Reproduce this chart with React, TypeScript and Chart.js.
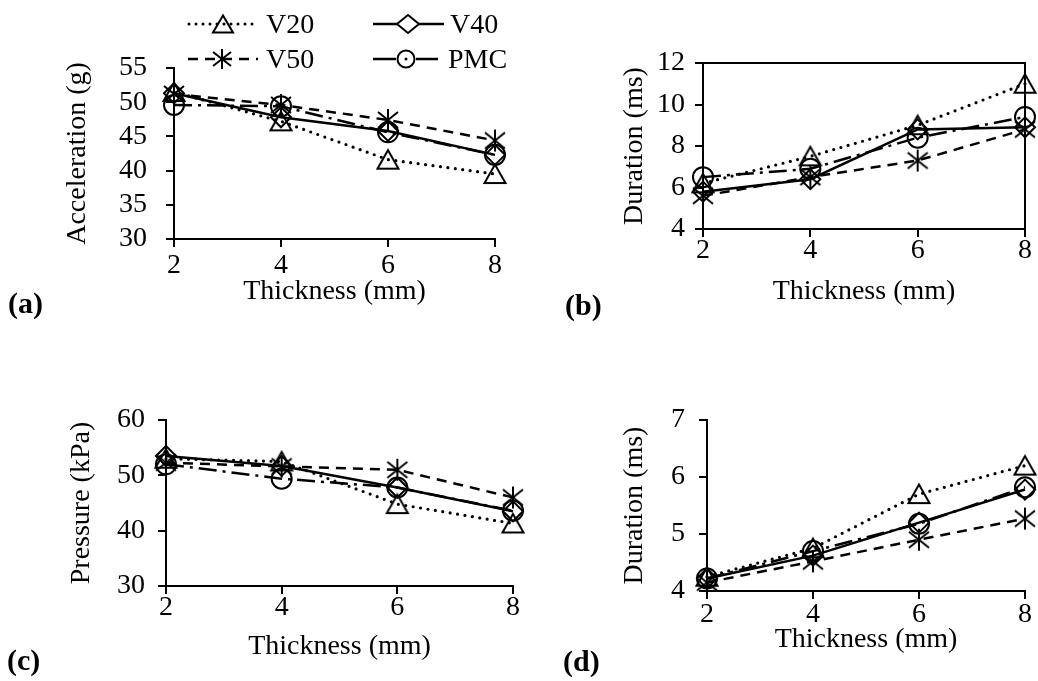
import React, { useEffect, useRef } from 'react';
import { Chart, registerables } from 'chart.js';

Chart.register(...registerables);

const FONT = "'Liberation Serif', 'Times New Roman', Times, serif";

// ---- data ----
const thickness = [2, 4, 6, 8];
const seriesNames = ['V20', 'V40', 'V50', 'PMC'];

const accV20 = [51.5, 47.2, 41.6, 39.5];
const accV40 = [51.3, 47.8, 45.8, 42.3];
const accV50 = [51.2, 49.6, 47.4, 44.4];
const accPMC = [49.6, 49.4, 45.6, 42.3];
const accTicks = [30, 35, 40, 45, 50, 55];

const durBV20 = [6.2, 7.5, 9.0, 11.0];
const durBV40 = [5.8, 6.4, 8.8, 8.9];
const durBV50 = [5.6, 6.5, 7.3, 8.8];
const durBPMC = [6.5, 6.9, 8.4, 9.4];
const durBTicks = [4, 6, 8, 10, 12];

const presV20 = [53.0, 52.5, 44.8, 41.3];
const presV40 = [53.5, 51.7, 47.8, 43.5];
const presV50 = [52.3, 51.6, 51.0, 46.0];
const presPMC = [52.0, 49.4, 47.8, 43.6];
const presTicks = [30, 40, 50, 60];

const durDV20 = [4.25, 4.75, 5.7, 6.2];
const durDV40 = [4.22, 4.62, 5.2, 5.78];
const durDV50 = [4.15, 4.52, 4.9, 5.27];
const durDPMC = [4.22, 4.7, 5.18, 5.82];
const durDTicks = [4, 5, 6, 7];

const xTitle = 'Thickness (mm)';

// ---- marker images ----
function makeTriangle(): HTMLCanvasElement {
  const c = document.createElement('canvas');
  c.width = 26; c.height = 24;
  const g = c.getContext('2d')!;
  g.strokeStyle = '#000'; g.lineWidth = 2; g.lineJoin = 'miter';
  g.beginPath();
  g.moveTo(13, 2.5); g.lineTo(2.5, 21); g.lineTo(23.5, 21); g.closePath();
  g.stroke();
  return c;
}
function makeAsterisk(): HTMLCanvasElement {
  const c = document.createElement('canvas');
  c.width = 24; c.height = 24;
  const g = c.getContext('2d')!;
  g.strokeStyle = '#000'; g.lineWidth = 2;
  g.beginPath();
  g.moveTo(12, 1); g.lineTo(12, 23);
  g.moveTo(2, 4); g.lineTo(22, 20);
  g.moveTo(22, 4); g.lineTo(2, 20);
  g.stroke();
  return c;
}

type Spec = {
  left: number; top: number; w: number; h: number;
  pad: { left: number; top: number; right: number; bottom: number };
  yW: number; xH: number; yPad: number; xPad: number;
  frame: boolean; yTitle: string; yTicks: number[]; series: number[][];
};

const panels: Spec[] = [
  { left: 0, top: 0, w: 540, h: 330, pad: { left: 61, top: 68, right: 45, bottom: 22 }, yW: 113, xH: 69, yPad: 19, xPad: 5, frame: false, yTitle: 'Acceleration (g)', yTicks: accTicks, series: [accV20, accV40, accV50, accPMC] },
  { left: 520, top: 0, w: 518, h: 330, pad: { left: 98, top: 63, right: 10, bottom: 22 }, yW: 85, xH: 79, yPad: 10, xPad: 0, frame: true, yTitle: 'Duration (ms)', yTicks: durBTicks, series: [durBV20, durBV40, durBV50, durBPMC] },
  { left: 0, top: 330, w: 540, h: 351, pad: { left: 65, top: 90, right: 27, bottom: 18 }, yW: 101, xH: 77, yPad: 13, xPad: 0, frame: false, yTitle: 'Pressure (kPa)', yTicks: presTicks, series: [presV20, presV40, presV50, presPMC] },
  { left: 520, top: 330, w: 518, h: 351, pad: { left: 98, top: 90, right: 9, bottom: 25 }, yW: 89, xH: 65, yPad: 14, xPad: 2, frame: false, yTitle: 'Duration (ms)', yTicks: durDTicks, series: [durDV20, durDV40, durDV50, durDPMC] },
];

const framePlugin = {
  id: 'frameBox',
  beforeDatasetsDraw(chart: any) {
    const { ctx, chartArea } = chart;
    ctx.save();
    ctx.strokeStyle = '#000';
    ctx.lineWidth = 2;
    ctx.strokeRect(chartArea.left, chartArea.top, chartArea.right - chartArea.left, chartArea.bottom - chartArea.top);
    ctx.restore();
  },
};

function Panel({ spec }: { spec: Spec }) {
  const ref = useRef<HTMLCanvasElement>(null);
  useEffect(() => {
    const tri = makeTriangle();
    const ast = makeAsterisk();
    const styles: any[] = [
      { dash: [0, 7.5], cap: 'round', width: 3.2, point: tri, radius: 11 },
      { dash: [], cap: 'butt', width: 2.5, point: 'rectRot', radius: 10 },
      { dash: [10, 7], cap: 'butt', width: 2.5, point: ast, radius: 11 },
      { dash: [18, 6, 3, 6], cap: 'butt', width: 2.5, point: 'circle', radius: 10 },
    ];
    const yt = spec.yTicks;
    const tickFont = { family: FONT, size: 28, lineHeight: 1 };
    const titleFont = { family: FONT, size: 28, lineHeight: 1.2 };
    const grid = { drawOnChartArea: false, drawTicks: true, tickLength: 8, color: '#000', lineWidth: 2 };
    const border = { display: true, color: '#000', width: 2 };
    const chart = new Chart(ref.current!, {
      type: 'line',
      data: {
        datasets: spec.series.map((vals, i) => ({
          label: seriesNames[i],
          data: thickness.map((x, j) => ({ x, y: vals[j] })),
          borderColor: '#000',
          borderWidth: styles[i].width,
          borderDash: styles[i].dash,
          borderCapStyle: styles[i].cap,
          pointStyle: styles[i].point,
          pointRadius: styles[i].radius,
          pointBorderWidth: 2,
          pointBorderColor: '#000',
          pointBackgroundColor: 'rgba(0,0,0,0)',
          fill: false,
          tension: 0,
          clip: false as any,
        })),
      },
      options: {
        animation: false,
        responsive: false,
        events: [],
        layout: { padding: spec.pad },
        plugins: { legend: { display: false }, tooltip: { enabled: false } },
        scales: {
          x: {
            type: 'linear',
            min: thickness[0],
            max: thickness[thickness.length - 1],
            ticks: { stepSize: thickness[1] - thickness[0], padding: spec.xPad, font: tickFont, color: '#000', maxRotation: 0 },
            grid, border,
            title: { display: true, text: xTitle, font: titleFont, color: '#000', padding: 0 },
            afterFit: (s: any) => { s.height = spec.xH; },
          },
          y: {
            type: 'linear',
            min: yt[0],
            max: yt[yt.length - 1],
            ticks: { stepSize: yt[1] - yt[0], padding: spec.yPad, font: tickFont, color: '#000' },
            grid, border,
            title: { display: true, text: spec.yTitle, font: titleFont, color: '#000', padding: 0 },
            afterFit: (s: any) => { s.width = spec.yW; },
          },
        },
      } as any,
      plugins: spec.frame ? [framePlugin] : [],
    });
    return () => chart.destroy();
  }, [spec]);
  return (
    <canvas
      ref={ref}
      width={spec.w}
      height={spec.h}
      style={{ position: 'absolute', left: spec.left, top: spec.top, width: spec.w, height: spec.h }}
    />
  );
}

const textStyle: React.CSSProperties = {
  position: 'absolute', fontFamily: FONT, fontSize: 28, lineHeight: '28px', color: '#000', whiteSpace: 'nowrap',
};
const labelStyle: React.CSSProperties = {
  position: 'absolute', fontFamily: FONT, fontSize: 30, lineHeight: '30px', fontWeight: 'bold', color: '#000', whiteSpace: 'nowrap',
};

function Legend() {
  return (
    <>
      <svg style={{ position: 'absolute', left: 186, top: 8.5 }} width={74} height={30}>
        <line x1={3} y1={15} x2={72} y2={15} stroke="#000" strokeWidth={3} strokeDasharray="0 7" strokeLinecap="round" />
        <polygon points="37,6.5 27,23.5 47,23.5" fill="none" stroke="#000" strokeWidth={2} />
      </svg>
      <div style={{ ...textStyle, left: 266, top: 9.5 }}>{seriesNames[0]}</div>

      <svg style={{ position: 'absolute', left: 372, top: 8.5 }} width={74} height={30}>
        <line x1={1} y1={15} x2={72} y2={15} stroke="#000" strokeWidth={2.5} />
        <polygon points="36,6 47,15 36,24 25,15" fill="#fff" stroke="#000" strokeWidth={2} />
      </svg>
      <div style={{ ...textStyle, left: 450, top: 9.5 }}>{seriesNames[1]}</div>

      <svg style={{ position: 'absolute', left: 186, top: 43.5 }} width={74} height={30}>
        <line x1={2} y1={15} x2={72} y2={15} stroke="#000" strokeWidth={2.5} strokeDasharray="10 7" />
        <line x1={36} y1={5} x2={36} y2={25} stroke="#000" strokeWidth={2} />
        <line x1={27} y1={8} x2={45} y2={22} stroke="#000" strokeWidth={2} />
        <line x1={45} y1={8} x2={27} y2={22} stroke="#000" strokeWidth={2} />
      </svg>
      <div style={{ ...textStyle, left: 266, top: 44.5 }}>{seriesNames[2]}</div>

      <svg style={{ position: 'absolute', left: 372, top: 43.5 }} width={68} height={30}>
        <line x1={1} y1={15} x2={24} y2={15} stroke="#000" strokeWidth={2.5} />
        <line x1={44} y1={15} x2={66} y2={15} stroke="#000" strokeWidth={2.5} />
        <circle cx={34} cy={15} r={8.5} fill="none" stroke="#000" strokeWidth={2} />
        <circle cx={34} cy={15} r={1.5} fill="#000" />
      </svg>
      <div style={{ ...textStyle, left: 448, top: 44.5 }}>{seriesNames[3]}</div>
    </>
  );
}

export default function App() {
  return (
    <div style={{ position: 'fixed', left: 0, top: 0, width: 1038, height: 681, background: '#fff', overflow: 'hidden' }}>
      {panels.map((p, i) => <Panel key={i} spec={p} />)}
      <Legend />
      <div style={{ ...labelStyle, left: 8, top: 287.5 }}>(a)</div>
      <div style={{ ...labelStyle, left: 565, top: 289.5 }}>(b)</div>
      <div style={{ ...labelStyle, left: 7, top: 644.5 }}>(c)</div>
      <div style={{ ...labelStyle, left: 563, top: 645.5 }}>(d)</div>
    </div>
  );
}
